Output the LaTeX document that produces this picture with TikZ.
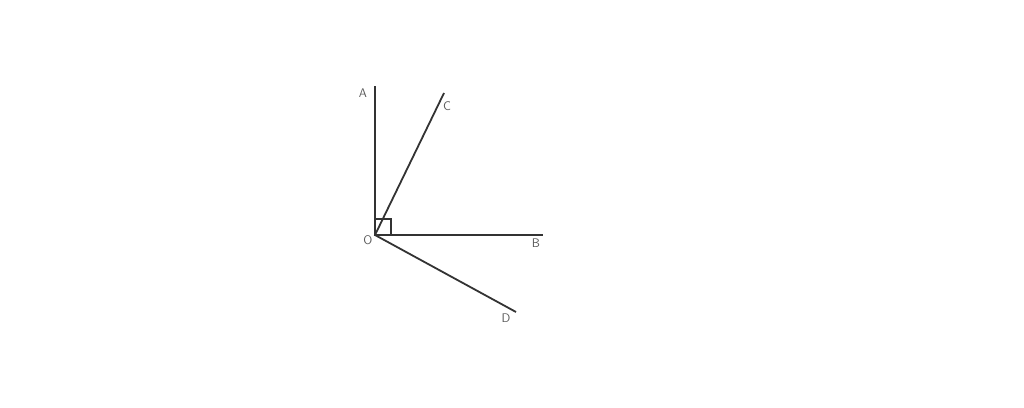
\documentclass[tikz,border=0pt]{standalone}
\usepackage{tikz}

\begin{document}
\begin{tikzpicture}[x=1pt,y=-1pt,
	ray/.style={line width=1.8pt, draw=black!80},
	lbl/.style={font=\sffamily\fontsize{12.5}{12.5}\selectfont, text=black!65, inner sep=0pt}]
	\useasboundingbox (0,0) rectangle (1024,407);
	\coordinate (O) at (375,235);
	\coordinate (A) at (375,86);
	\coordinate (B) at (543,235);
	\coordinate (C) at (444,93);
	\coordinate (D) at (516,312);
	\draw[ray] (A) -- (O) -- (B);
	\draw[ray] (C) -- (O) -- (D);
	\draw[line width=1.3pt, draw=black!80] (O) ++(0,-16) -- ++(16,0) -- ++(0,16);
	\node[lbl] (a) at (363,93) {A};
	\node[lbl] (c) at (447,106) {C};
	\node[lbl] (o) at (368,240) {O};
	\node[lbl] (b) at (536,243) {B};
	\node[lbl] (d) at (506,318) {D};
\end{tikzpicture}
\end{document}
